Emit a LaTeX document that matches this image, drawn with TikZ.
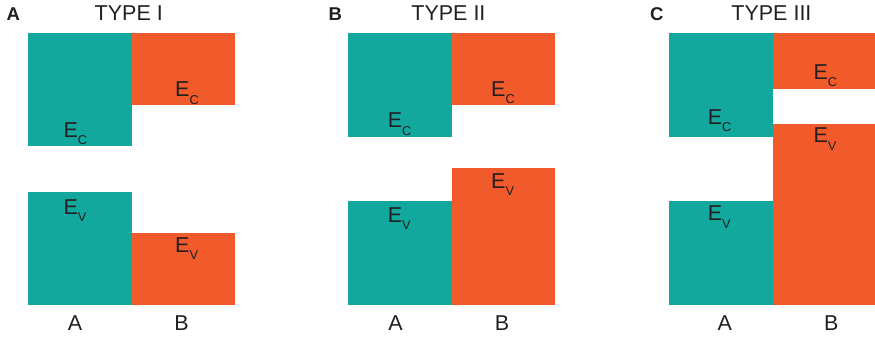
\documentclass[tikz,border=0pt]{standalone}
\usepackage{fontspec}
\setmainfont{Liberation Sans}
\definecolor{bandA}{HTML}{12A89D}
\definecolor{bandB}{HTML}{F15A2B}
\definecolor{ink}{HTML}{231F20}
\newcommand{\subsz}{\fontsize{12.8}{12.8}\selectfont}
\newcommand{\band}[2]{E\raisebox{-7.5pt}{\subsz #2}}
\tikzset{
  blk/.style={inner sep=0pt, outer sep=0pt, anchor=north west, draw=none},
  tealblk/.style={blk, fill=bandA},
  orangeblk/.style={blk, fill=bandB},
  elab/.style={inner sep=0pt, anchor=base west, text=ink, font=\fontsize{21.5}{21.5}\selectfont},
  title/.style={inner sep=0pt, anchor=base west, text=ink, font=\fontsize{21.5}{21.5}\selectfont},
  panel/.style={inner sep=0pt, anchor=base west, text=ink, font=\bfseries\fontsize{18.5}{18.5}\selectfont},
  matl/.style={inner sep=0pt, anchor=base, text=ink, font=\fontsize{21.5}{21.5}\selectfont}
}
\begin{document}
\begin{tikzpicture}[x=1pt,y=-1pt]
\useasboundingbox (0,0) rectangle (875,337);

% ---- Type I (straddling) ----
\node[panel] (pA) at (6.3,21) {A};
\node[title] (tA) at (94.5,21) {TYPE I};
\node[tealblk, minimum width=103.5pt, minimum height=112.7pt] (aTc) at (28,33) {};
\node[orangeblk, minimum width=103.5pt, minimum height=71.7pt] (aOc) at (131.5,33) {};
\node[tealblk, minimum width=103.5pt, minimum height=112.7pt] (aTv) at (28,192) {};
\node[orangeblk, minimum width=103.5pt, minimum height=72pt] (aOv) at (131.5,232.7) {};
\node[elab] (aTcL) at (63.3,137) {\band EC};
\node[elab] (aOcL) at (175,96.7) {\band EC};
\node[elab] (aTvL) at (63.3,214.3) {\band EV};
\node[elab] (aOvL) at (175,252.3) {\band EV};
\node[matl] (aA) at (75,330.5) {A};
\node[matl] (aB) at (181.5,330.5) {B};

% ---- Type II (staggered) ----
\node[panel] (pB) at (328.3,21) {B};
\node[title] (tB) at (411.2,21) {TYPE II};
\node[tealblk, minimum width=103.5pt, minimum height=103.7pt] (bTc) at (348,33) {};
\node[orangeblk, minimum width=103.5pt, minimum height=71.7pt] (bOc) at (451.5,33) {};
\node[tealblk, minimum width=103.5pt, minimum height=103.7pt] (bTv) at (348,201) {};
\node[orangeblk, minimum width=103.5pt, minimum height=137pt] (bOv) at (451.5,167.7) {};
\node[elab] (bTcL) at (387.6,127.7) {\band EC};
\node[elab] (bOcL) at (491,96) {\band EC};
\node[elab] (bOvL) at (491,188.3) {\band EV};
\node[elab] (bTvL) at (387.6,222.3) {\band EV};
\node[matl] (bA) at (395.5,330.5) {A};
\node[matl] (bB) at (502,330.5) {B};

% ---- Type III (broken gap) ----
\node[panel] (pC) at (650,21) {C};
\node[title] (tC) at (731.2,21) {TYPE III};
\node[tealblk, minimum width=104pt, minimum height=103.7pt] (cTc) at (669,33) {};
\node[orangeblk, minimum width=102pt, minimum height=55.7pt] (cOc) at (773,33) {};
\node[tealblk, minimum width=104pt, minimum height=103.7pt] (cTv) at (669,201) {};
\node[orangeblk, minimum width=102pt, minimum height=180.7pt] (cOv) at (773,124) {};
\node[elab] (cOcL) at (813.3,79.3) {\band EC};
\node[elab] (cTcL) at (707.6,124) {\band EC};
\node[elab] (cOvL) at (813.3,142.7) {\band EV};
\node[elab] (cTvL) at (707.6,220.7) {\band EV};
\node[matl] (cA) at (724.7,330.5) {A};
\node[matl] (cB) at (831.3,330.5) {B};
\end{tikzpicture}
\end{document}
